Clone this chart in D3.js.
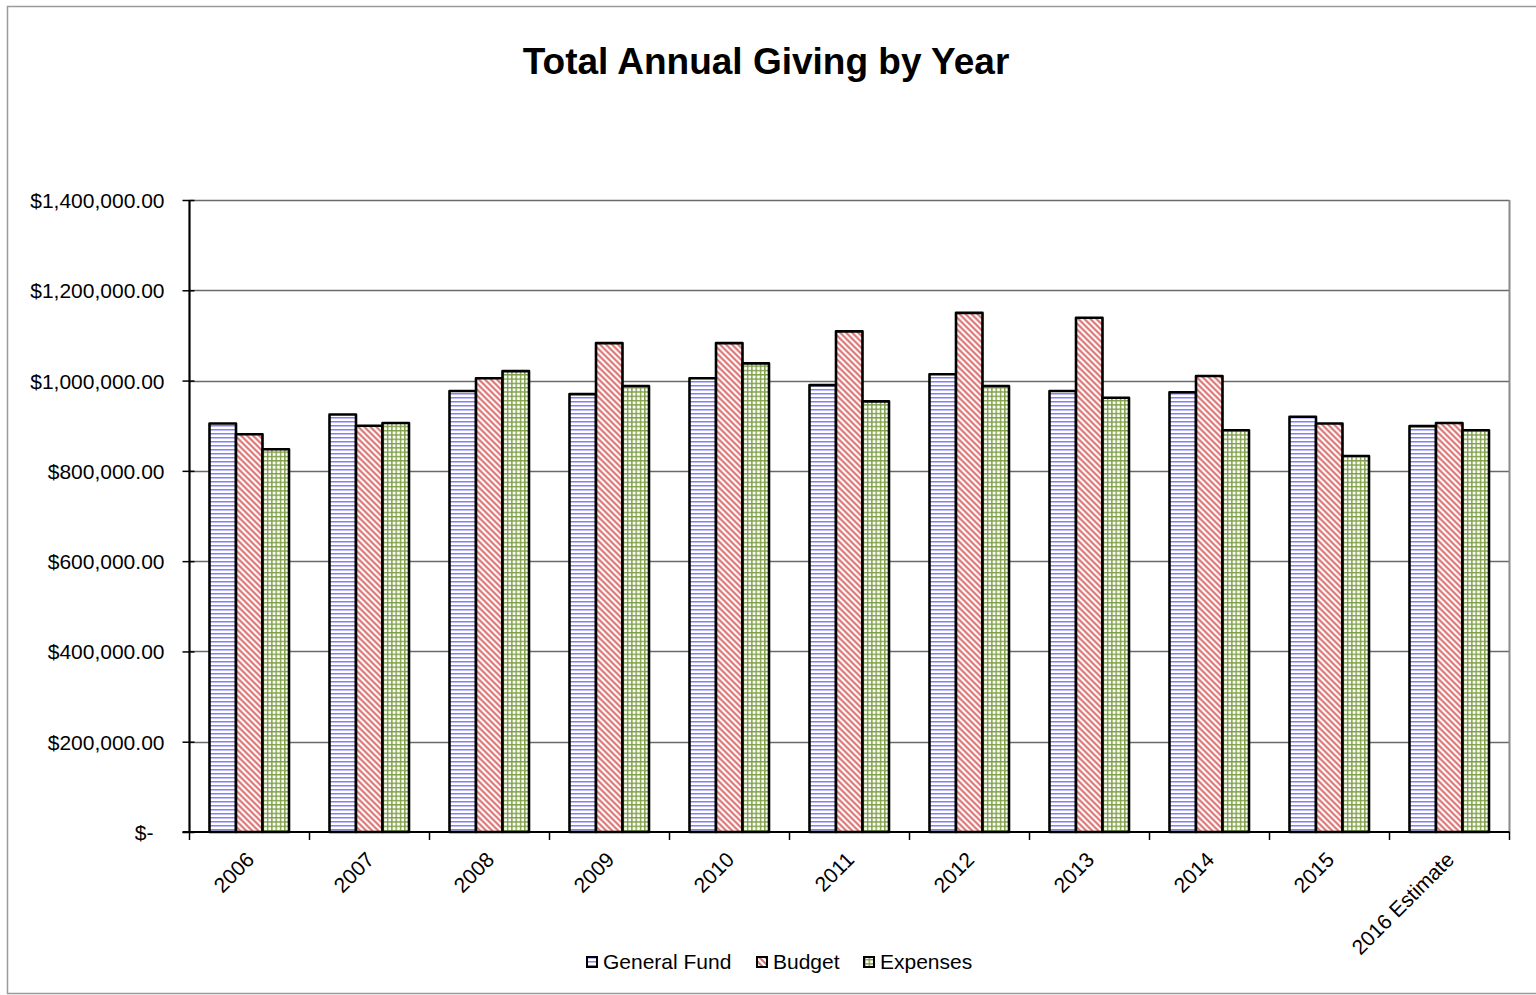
<!DOCTYPE html>
<html>
<head>
<meta charset="utf-8">
<title>Total Annual Giving by Year</title>
<script src="https://cdn.jsdelivr.net/npm/d3@7"></script>
<style>
  html, body { margin: 0; padding: 0; background: #ffffff; }
  svg { display: block; font-family: "Liberation Sans", Arial, sans-serif; }
</style>
</head>
<body>
<svg id="chart" width="1536" height="995"></svg>
<script>
// Chart data
const categories = ["2006", "2007", "2008", "2009", "2010", "2011", "2012", "2013", "2014", "2015", "2016 Estimate"];
const seriesNames = ["General Fund", "Budget", "Expenses"];
const generalFund = [905000, 925000, 977000, 970000, 1005000, 990000, 1014000, 977000, 974000, 920000, 899000];
const budget      = [881000, 900000, 1005000, 1083000, 1083000, 1109000, 1150000, 1139000, 1010000, 905000, 906000];
const expenses    = [848000, 906000, 1021000, 988000, 1038000, 954000, 988000, 962000, 890000, 833000, 890000];
const yTickValues = [0, 200000, 400000, 600000, 800000, 1000000, 1200000, 1400000];

const seriesValues = [generalFund, budget, expenses];
const patternIds = ["pat-gf", "pat-budget", "pat-exp"];

const svg = d3.select("#chart");
const W = 1536, H = 995;

// Hatch patterns for the three series
const defs = svg.append("defs");

const pGF = defs.append("pattern").attr("id", "pat-gf")
  .attr("patternUnits", "userSpaceOnUse").attr("width", 4).attr("height", 4);
pGF.append("rect").attr("width", 4).attr("height", 4).attr("fill", "#ffffff");
pGF.append("rect").attr("x", 0).attr("y", 1).attr("width", 4).attr("height", 1.5).attr("fill", "#8080ff");

const pB = defs.append("pattern").attr("id", "pat-budget")
  .attr("patternUnits", "userSpaceOnUse").attr("width", 6).attr("height", 6);
pB.append("rect").attr("width", 6).attr("height", 6).attr("fill", "#ffffff");
pB.append("path").attr("d", "M-1,-1 L7,7 M-1,5 L1,7 M5,-1 L7,1")
  .attr("stroke", "#dc7373").attr("stroke-width", 2.2).attr("fill", "none");

const pE = defs.append("pattern").attr("id", "pat-exp")
  .attr("patternUnits", "userSpaceOnUse").attr("width", 4.3).attr("height", 4.3);
pE.append("rect").attr("width", 4.3).attr("height", 4.3).attr("fill", "#ffffff");
pE.append("rect").attr("x", 0).attr("y", 0).attr("width", 4.3).attr("height", 1.4).attr("fill", "#7f9f48");
pE.append("rect").attr("x", 0).attr("y", 0).attr("width", 1.4).attr("height", 4.3).attr("fill", "#7f9f48");

// Outer chart frame
svg.append("rect")
  .attr("x", 7.5).attr("y", 6.5).attr("width", W + 10).attr("height", 987)
  .attr("fill", "none").attr("stroke", "#9a9a9a").attr("stroke-width", 1.5);

// Title
svg.append("text")
  .attr("x", 766).attr("y", 74)
  .attr("text-anchor", "middle")
  .attr("font-size", 37).attr("font-weight", "bold").attr("fill", "#000")
  .text("Total Annual Giving by Year");

// Scales
const plotLeft = 189.5, plotRight = 1509.5, plotTop = 200, plotBottom = 832;
const x0 = d3.scaleBand().domain(categories).range([plotLeft, plotRight]).padding(0);
const x1 = d3.scaleBand().domain(seriesNames).range([20, 99.5]).padding(0);
const y = d3.scaleLinear().domain([0, 1400000]).range([plotBottom, plotTop]);

// Gridlines
svg.append("g").selectAll("line")
  .data(yTickValues.filter(v => v > 0))
  .join("line")
  .attr("x1", plotLeft).attr("x2", plotRight)
  .attr("y1", d => Math.round(y(d)) + 0.5).attr("y2", d => Math.round(y(d)) + 0.5)
  .attr("stroke", "#6a6a6a").attr("stroke-width", 1.4);

// Right border of the plot area
svg.append("line")
  .attr("x1", plotRight).attr("x2", plotRight)
  .attr("y1", y(1400000)).attr("y2", plotBottom)
  .attr("stroke", "#8a8a8a").attr("stroke-width", 2);

// Bars
const groups = svg.append("g").selectAll("g")
  .data(categories)
  .join("g")
  .attr("transform", d => `translate(${x0(d)},0)`);

groups.selectAll("rect")
  .data((d, i) => seriesNames.map((s, k) => ({ series: s, k, value: seriesValues[k][i] })))
  .join("rect")
  .attr("x", d => x1(d.series))
  .attr("y", d => y(d.value))
  .attr("width", x1.bandwidth())
  .attr("height", d => plotBottom - y(d.value))
  .attr("fill", d => `url(#${patternIds[d.k]})`)
  .attr("stroke", "#000").attr("stroke-width", 2.6)
  .attr("stroke-linejoin", "round");

// Y axis
const fmt = d3.format("$,.2f");
const yAxis = d3.axisLeft(y)
  .tickValues(yTickValues)
  .tickSize(0)
  .tickPadding(0)
  .tickFormat(d => d === 0 ? "$-" : fmt(d));

const yAxisG = svg.append("g")
  .attr("transform", `translate(${plotLeft},0)`)
  .call(yAxis);
yAxisG.select(".domain").remove();
yAxisG.selectAll(".tick text")
  .attr("x", d => d === 0 ? -36 : -25)
  .attr("dy", "0.36em")
  .attr("font-size", 21)
  .attr("font-family", "Liberation Sans, Arial, sans-serif")
  .attr("fill", "#000");
yAxisG.selectAll(".tick").append("line")
  .attr("x1", -7).attr("x2", 5)
  .attr("stroke", "#000").attr("stroke-width", 1.5);

svg.append("line")
  .attr("x1", plotLeft).attr("x2", plotLeft)
  .attr("y1", plotTop).attr("y2", plotBottom + 1)
  .attr("stroke", "#000").attr("stroke-width", 2.2);

// X axis
const xAxis = d3.axisBottom(x0).tickSize(0).tickPadding(0);
const xAxisG = svg.append("g")
  .attr("transform", `translate(0,${plotBottom})`)
  .call(xAxis);
xAxisG.select(".domain").remove();
xAxisG.selectAll(".tick text")
  .attr("font-size", 21)
  .attr("font-family", "Liberation Sans, Arial, sans-serif")
  .attr("fill", "#000")
  .attr("text-anchor", "end")
  .attr("y", 0).attr("dy", 0)
  .attr("transform", "translate(6,29) rotate(-45)");

svg.append("line")
  .attr("x1", plotLeft - 7).attr("x2", plotRight)
  .attr("y1", plotBottom).attr("y2", plotBottom)
  .attr("stroke", "#000").attr("stroke-width", 2.2);

// Category separators below the axis
const boundaries = categories.map(c => x0(c)).concat([plotRight]);
svg.append("g").selectAll("line")
  .data(boundaries)
  .join("line")
  .attr("x1", d => d).attr("x2", d => d)
  .attr("y1", plotBottom).attr("y2", plotBottom + 8)
  .attr("stroke", "#000").attr("stroke-width", 1.5);

// Legend
const legendItems = [
  { name: "General Fund", k: 0, x: 587 },
  { name: "Budget", k: 1, x: 757 },
  { name: "Expenses", k: 2, x: 864 }
];
const legend = svg.append("g");
legendItems.forEach(item => {
  legend.append("rect")
    .attr("x", item.x).attr("y", 957)
    .attr("width", 10).attr("height", 10)
    .attr("fill", `url(#${patternIds[item.k]})`)
    .attr("stroke", "#000").attr("stroke-width", 2);
  legend.append("text")
    .attr("x", item.x + 16).attr("y", 969)
    .attr("font-size", 21)
    .attr("fill", "#000")
    .text(item.name);
});
</script>
</body>
</html>
